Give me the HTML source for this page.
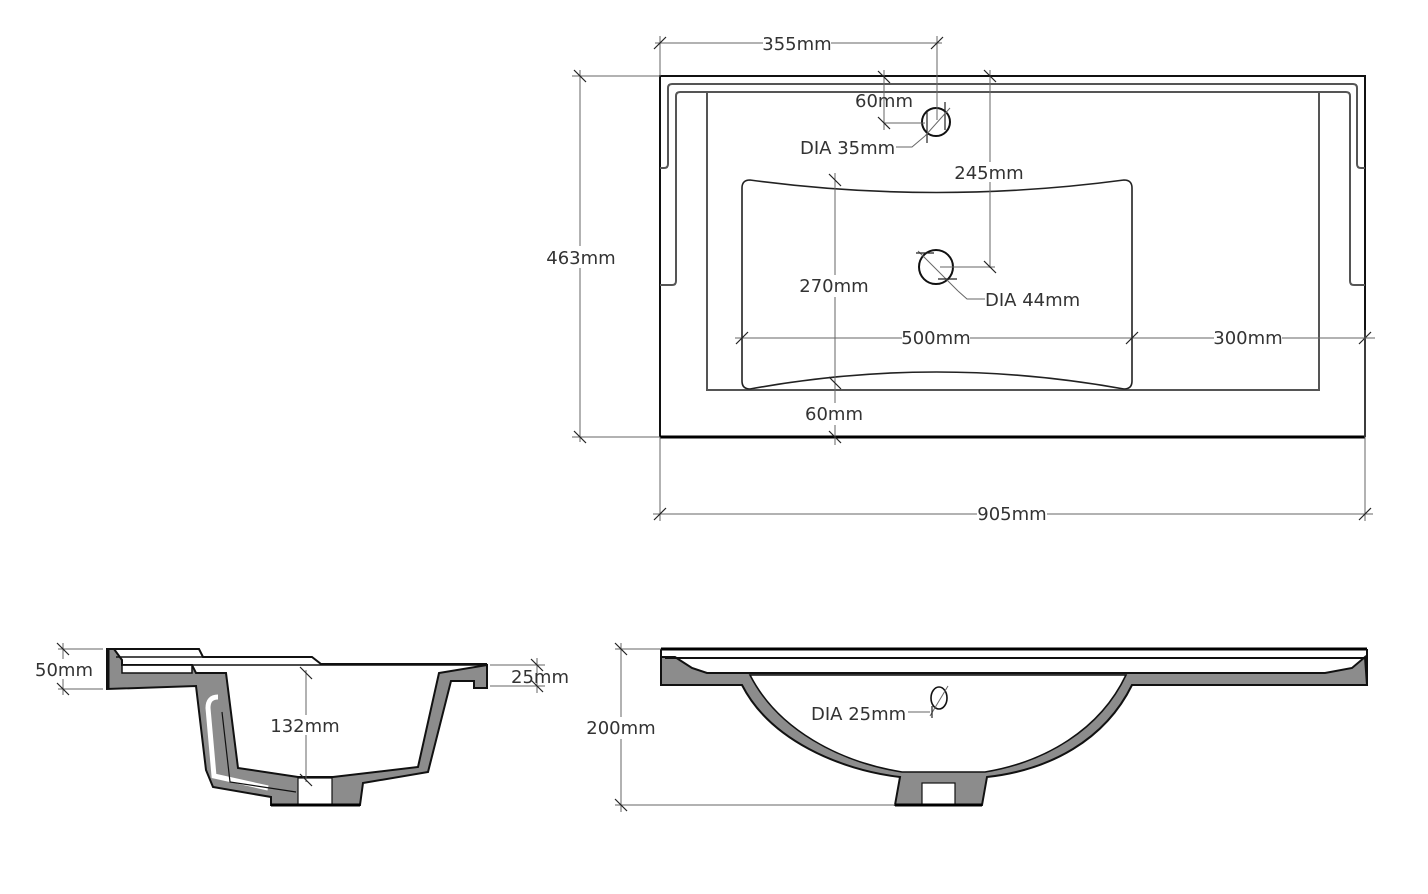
<!DOCTYPE html>
<html><head><meta charset="utf-8"><style>
html,body{margin:0;padding:0;background:#fff;}
svg{display:block;}
text{font-family:"DejaVu Sans","Liberation Sans",sans-serif;font-size:18px;fill:#333;}
.d{stroke:#666;stroke-width:1;fill:none;}
.t{stroke:#222;stroke-width:1.2;}
.k{stroke:#111;stroke-width:2;fill:none;}
.g{stroke:#555;stroke-width:2;fill:none;}
.lb{fill:#fff;stroke:none;}
.gr{fill:#8c8c8c;stroke:#111;stroke-width:2;}
</style></head><body>
<svg width="1428" height="894" viewBox="0 0 1428 894" xmlns="http://www.w3.org/2000/svg">
<!-- ============ TOP VIEW ============ -->
<path class="k" d="M660,437 L660,76 L1365,76 L1365,437" />
<line x1="660" y1="437" x2="1365" y2="437" stroke="#000" stroke-width="3"/>
<path class="g" d="M660,168 L664,168 Q668,168 668,164 L668,88 Q668,84 672,84 L1353,84 Q1357,84 1357,88 L1357,164 Q1357,168 1361,168 L1365,168"/>
<path class="g" d="M660,285 L672,285 Q676,285 676,281 L676,96 Q676,92 680,92 L1346,92 Q1350,92 1350,96 L1350,281 Q1350,285 1354,285 L1365,285"/>
<path class="g" d="M707,92 L707,390 L1319,390 L1319,92"/>
<path d="M750,180 Q936,205 1124,180 Q1132,180 1132,188 L1132,381 Q1132,389 1124,389 Q936,355 750,389 Q742,389 742,381 L742,188 Q742,180 750,180 Z" fill="none" stroke="#222" stroke-width="1.6"/>
<circle cx="936" cy="122" r="14" fill="none" stroke="#111" stroke-width="2"/>
<circle cx="936" cy="267" r="17" fill="none" stroke="#111" stroke-width="2"/>

<line class="d" x1="655" y1="43" x2="942" y2="43"/>
<line class="d" x1="660" y1="36" x2="660" y2="76"/>
<line class="d" x1="937" y1="36" x2="937" y2="120"/>
<line class="t" x1="654" y1="49" x2="666" y2="37"/><line class="t" x1="931" y1="49" x2="943" y2="37"/>
<rect class="lb" x="763" y="32" width="68" height="22"/><text x="797" y="50" text-anchor="middle">355mm</text>
<line class="d" x1="884" y1="70" x2="884" y2="130"/>
<line class="d" x1="884" y1="123" x2="925" y2="123"/>
<line class="t" x1="878" y1="71" x2="890" y2="83"/><line class="t" x1="878" y1="117" x2="890" y2="129"/>
<line class="t" x1="927" y1="110" x2="927" y2="143"/><line class="t" x1="945" y1="102" x2="945" y2="130"/>
<line class="d" x1="925" y1="136" x2="950" y2="108"/>
<text x="884" y="107" text-anchor="middle">60mm</text>
<path class="d" d="M896,147 L912,147 L925,136" stroke="#333"/>
<text x="800" y="154">DIA 35mm</text>
<line class="d" x1="990" y1="70" x2="990" y2="268"/>
<line class="d" x1="940" y1="267" x2="995" y2="267"/>
<line class="t" x1="984" y1="70" x2="996" y2="82"/><line class="t" x1="984" y1="261" x2="996" y2="273"/>
<rect class="lb" x="955" y="162" width="68" height="20"/><text x="989" y="179" text-anchor="middle">245mm</text>
<line class="d" x1="918" y1="251" x2="958" y2="291"/>
<line class="t" x1="916" y1="253" x2="934" y2="253"/><line class="t" x1="938" y1="279" x2="957" y2="279"/>
<path class="d" d="M958,291 L967,299 L985,299" stroke="#333"/>
<text x="985" y="306">DIA 44mm</text>
<line class="d" x1="835" y1="173" x2="835" y2="445"/>
<line class="t" x1="829" y1="174" x2="841" y2="186"/><line class="t" x1="829" y1="377" x2="841" y2="389"/><line class="t" x1="829" y1="431" x2="841" y2="443"/>
<rect class="lb" x="800" y="275" width="70" height="22"/><text x="834" y="292" text-anchor="middle">270mm</text>
<rect class="lb" x="805" y="403" width="60" height="22"/><text x="834" y="420" text-anchor="middle">60mm</text>
<line class="d" x1="735" y1="338" x2="1375" y2="338"/>
<line class="t" x1="736" y1="344" x2="748" y2="332"/><line class="t" x1="1126" y1="344" x2="1138" y2="332"/><line class="t" x1="1359" y1="344" x2="1371" y2="332"/>
<rect class="lb" x="902" y="327" width="68" height="22"/><text x="936" y="344" text-anchor="middle">500mm</text>
<rect class="lb" x="1214" y="327" width="68" height="22"/><text x="1248" y="344" text-anchor="middle">300mm</text>
<line class="d" x1="580" y1="70" x2="580" y2="442"/>
<line class="d" x1="572" y1="76" x2="660" y2="76"/><line class="d" x1="572" y1="437" x2="660" y2="437"/>
<line class="t" x1="574" y1="70" x2="586" y2="82"/><line class="t" x1="574" y1="431" x2="586" y2="443"/>
<rect class="lb" x="546" y="246" width="70" height="22"/><text x="581" y="264" text-anchor="middle">463mm</text>
<line class="d" x1="653" y1="514" x2="1373" y2="514"/>
<line class="d" x1="660" y1="437" x2="660" y2="521"/><line class="d" x1="1365" y1="330" x2="1365" y2="521"/>
<line class="t" x1="654" y1="520" x2="666" y2="508"/><line class="t" x1="1359" y1="520" x2="1371" y2="508"/>
<rect class="lb" x="977" y="503" width="70" height="22"/><text x="1012" y="520" text-anchor="middle">905mm</text>

<!-- ============ SIDE SECTION (left) ============ -->
<path class="gr" d="M107,649 L114,649 L122,660 L122,665 L192,665 L196,673 L226,673 L238,768 L298,777 L333,777 L418,767 L439,673 L487,665 L487,688 L474,688 L474,681 L451,681 L428,772 L363,783 L360,805 L271,805 L271,797 L213,787 L206,770 L196,686 L107,689 Z"/>
<path d="M122,665 L192,665 L192,673 L122,673 Z" fill="#fff" stroke="#111" stroke-width="1.5"/>
<path d="M114,649 L199,649 L203,657 L312,657 L321,664 L487,664" fill="none" stroke="#111" stroke-width="2"/>
<path d="M116,657 L203,657" fill="none" stroke="#111" stroke-width="1.5"/>
<path d="M122,665 L487,665" fill="none" stroke="#111" stroke-width="1.5"/>
<path d="M108,649 L108,689" stroke="#111" stroke-width="3"/>
<path d="M218,697 Q208,697 208,708 L214,776 L268,788" fill="none" stroke="#fff" stroke-width="5"/>
<path d="M222,712 L230,782 L296,792" fill="none" stroke="#111" stroke-width="1.2"/>
<rect x="298" y="778" width="34" height="27" fill="#fff" stroke="#111" stroke-width="1.2"/>
<line x1="271" y1="805" x2="360" y2="805" stroke="#000" stroke-width="3"/>
<line class="d" x1="63" y1="643" x2="63" y2="695"/>
<line class="d" x1="58" y1="649" x2="103" y2="649"/><line class="d" x1="58" y1="689" x2="103" y2="689"/>
<line class="t" x1="57" y1="643" x2="69" y2="655"/><line class="t" x1="57" y1="683" x2="69" y2="695"/>
<rect class="lb" x="34" y="659" width="60" height="20"/><text x="64" y="676" text-anchor="middle">50mm</text>
<line class="d" x1="537" y1="658" x2="537" y2="693"/>
<line class="d" x1="490" y1="665" x2="545" y2="665"/><line class="d" x1="490" y1="686" x2="545" y2="686"/>
<line class="t" x1="531" y1="659" x2="543" y2="671"/><line class="t" x1="531" y1="680" x2="543" y2="692"/>
<text x="540" y="683" text-anchor="middle">25mm</text>
<line class="d" x1="306" y1="670" x2="306" y2="782"/>
<line class="t" x1="300" y1="667" x2="312" y2="679"/><line class="t" x1="300" y1="774" x2="312" y2="786"/>
<rect class="lb" x="270" y="715" width="72" height="20"/><text x="305" y="732" text-anchor="middle">132mm</text>

<!-- ============ FRONT SECTION (bottom right) ============ -->
<path class="gr" d="M661,657 L675,657 L692,668 L707,673 L1325,673 L1352,668 L1365,657 L1367,685 L1132,685 C1105,740 1050,770 987,777 L982,805 L895,805 L900,777 C840,770 770,740 742,685 L661,685 Z"/>
<path d="M750,675 C778,730 840,762 902,772 L985,772 C1045,762 1100,730 1126,675 Z" fill="#fff" stroke="#111" stroke-width="1.6"/>
<line x1="661" y1="649" x2="1367" y2="649" stroke="#000" stroke-width="3"/>
<line x1="665" y1="658" x2="1365" y2="658" stroke="#111" stroke-width="2"/>
<line x1="707" y1="673" x2="1325" y2="673" stroke="#111" stroke-width="2"/>
<line x1="661" y1="649" x2="661" y2="685" stroke="#111" stroke-width="2"/>
<line x1="1367" y1="649" x2="1367" y2="685" stroke="#111" stroke-width="2"/>
<rect x="922" y="783" width="33" height="22" fill="#fff" stroke="#111" stroke-width="1.2"/>
<line x1="895" y1="805" x2="982" y2="805" stroke="#000" stroke-width="3"/>
<ellipse cx="939" cy="698" rx="8" ry="11" fill="none" stroke="#111" stroke-width="1.6"/>
<line class="d" x1="930" y1="716" x2="948" y2="686" stroke="#333"/>
<line class="t" x1="932" y1="706" x2="932" y2="718"/>
<path class="d" d="M908,712 L930,712" stroke="#333"/>
<text x="811" y="720">DIA 25mm</text>
<line class="d" x1="621" y1="643" x2="621" y2="812"/>
<line class="d" x1="615" y1="649" x2="661" y2="649"/><line class="d" x1="615" y1="805" x2="895" y2="805"/>
<line class="t" x1="615" y1="643" x2="627" y2="655"/><line class="t" x1="615" y1="799" x2="627" y2="811"/>
<rect class="lb" x="586" y="717" width="70" height="22"/><text x="621" y="734" text-anchor="middle">200mm</text>
</svg>
</body></html>
